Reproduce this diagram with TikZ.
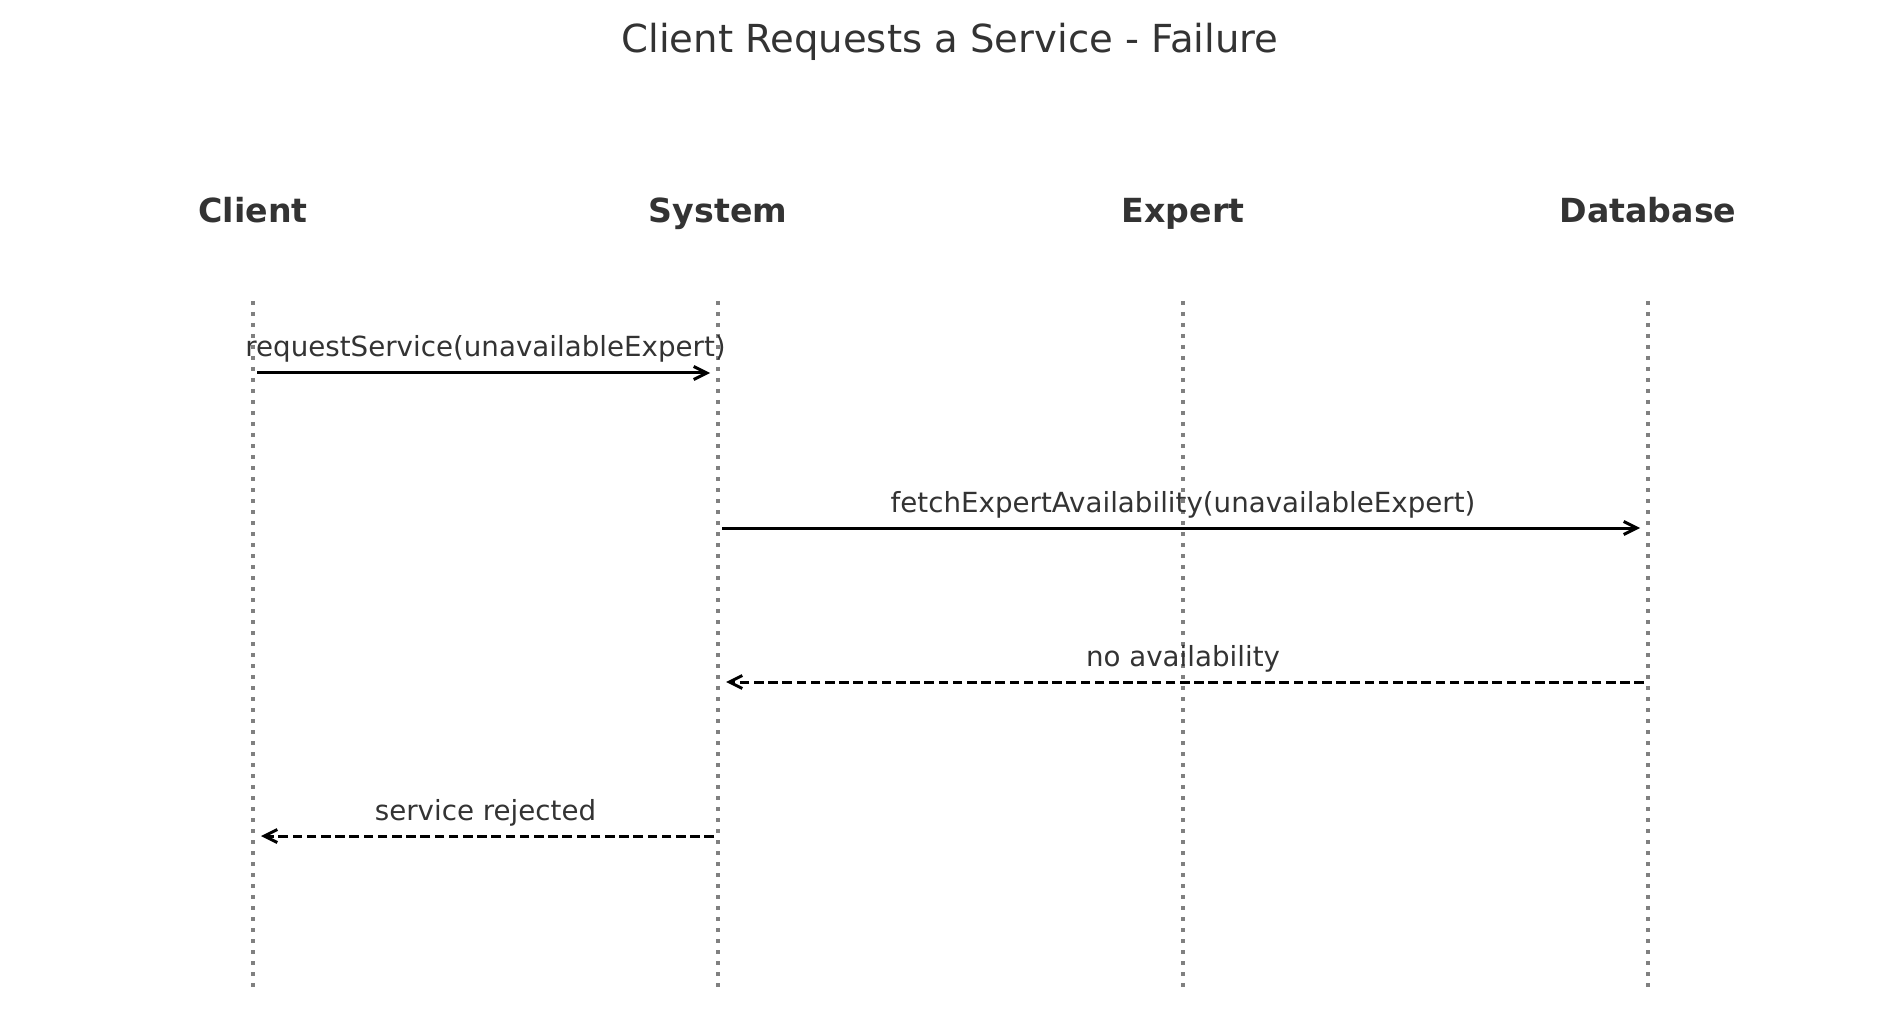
\documentclass[tikz,border=0pt]{standalone}
\usepackage{fontspec}
\setmainfont{DejaVu Sans}
\usetikzlibrary{arrows.meta}

\definecolor{txtgray}{HTML}{333333}
\definecolor{linegray}{HTML}{808080}

\tikzstyle{actor}=[text=txtgray, anchor=base, inner sep=0pt, font=\fontsize{16.6}{20}\selectfont\bfseries]
\tikzstyle{lifeline}=[draw=linegray, line width=2pt, dash pattern=on 2pt off 3.5pt]
\tikzstyle{msglabel}=[text=txtgray, anchor=base, inner sep=0pt, font=\fontsize{13.85}{16}\selectfont]
\tikzstyle{call}=[draw=black, line width=1.5pt, -{Straight Barb[length=6.5pt,width=6.5pt]}, shorten <=2pt, shorten >=4pt]
\tikzstyle{reply}=[call, dash pattern=on 4.8pt off 2.3pt]

\begin{document}
\begin{tikzpicture}[x=0.5pt, y=-0.5pt]
\useasboundingbox (0,0) rectangle (1900,1010);

\node[text=txtgray, anchor=base, inner sep=0pt, font=\fontsize{19.3}{23}\selectfont] (title) at (950,53) {Client Requests a Service - Failure};

\node[actor] (client) at (253,223) {Client};
\node[actor] (system) at (718,223) {System};
\node[actor] (expert) at (1183,223) {Expert};
\node[actor] (database) at (1648,223) {Database};

\coordinate (clientTop) at (253,301);
\coordinate (clientBot) at (253,990);
\draw[lifeline] (clientTop) -- (clientBot);

\coordinate (systemTop) at (718,301);
\coordinate (systemBot) at (718,990);
\draw[lifeline] (systemTop) -- (systemBot);

\coordinate (expertTop) at (1183,301);
\coordinate (expertBot) at (1183,990);
\draw[lifeline] (expertTop) -- (expertBot);

\coordinate (databaseTop) at (1648,301);
\coordinate (databaseBot) at (1648,990);
\draw[lifeline] (databaseTop) -- (databaseBot);

\coordinate (c1) at (253,373);
\coordinate (s1) at (718,373);
\draw[call] (c1) -- (s1);
\node[msglabel] (l1) at (485.5,357) {requestService(unavailableExpert)};

\coordinate (s2) at (718,528);
\coordinate (d2) at (1648,528);
\draw[call] (s2) -- (d2);
\node[msglabel] (l2) at (1183,512) {fetchExpertAvailability(unavailableExpert)};

\coordinate (d3) at (1648,682);
\coordinate (s3) at (718,682);
\draw[reply] (d3) -- (s3);
\node[msglabel] (l3) at (1183,666) {no availability};

\coordinate (s4) at (718,836);
\coordinate (c4) at (253,836);
\draw[reply] (s4) -- (c4);
\node[msglabel] (l4) at (485.5,820) {service rejected};
\end{tikzpicture}
\end{document}
